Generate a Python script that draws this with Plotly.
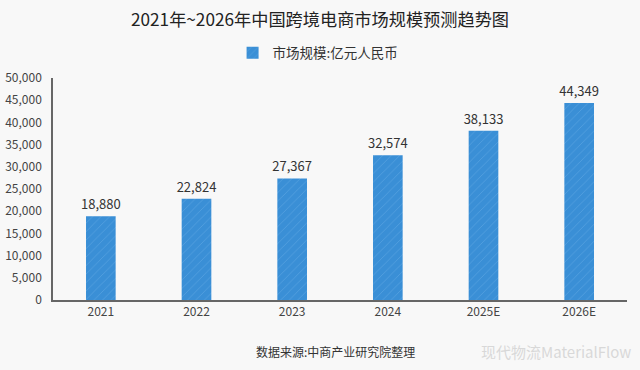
import plotly.graph_objects as go

categories = ["2021", "2022", "2023", "2024", "2025E", "2026E"]
values = [18880, 22824, 27367, 32574, 38133, 44349]
tick_vals = [0, 5000, 10000, 15000, 20000, 25000, 30000, 35000, 40000, 45000, 50000]
tick_text = [f"{v:,}" for v in tick_vals]
series_name = "市场规模:亿元人民币"
title = "2021年~2026年中国跨境电商市场规模预测趋势图"
source = "数据来源:中商产业研究院整理"

FONT = "Noto Sans CJK SC"
BLUE = "#3a8fd6"

fig = go.Figure()
fig.add_trace(go.Bar(
    x=categories, y=values, name=series_name,
    marker=dict(color=BLUE, line=dict(width=0),
                pattern=dict(shape="/", fgcolor="#6aaee6", size=6, solidity=0.15)),
    width=0.31,
    text=[f"{v:,}" for v in values], textposition="outside",
    constraintext="none",
    textfont=dict(family=FONT, size=13, color="#333"),
    cliponaxis=False,
    showlegend=True,
))

fig.update_layout(
    width=640, height=370,
    paper_bgcolor="#f8f8f8", plot_bgcolor="#f8f8f8",
    margin=dict(l=53, r=13, t=78, b=70, autoexpand=False),
    title=dict(text=title, x=0.5, xanchor="center", y=0.945, yanchor="middle",
               font=dict(family=FONT, size=17.2, color="#222")),
    legend=dict(orientation="h", xref="container", x=0.497, xanchor="center",
                yref="container", y=0.857, yanchor="middle",
                font=dict(family=FONT, size=13.5, color="#333"),
                bgcolor="rgba(0,0,0,0)", itemwidth=30),
    font=dict(family=FONT),
)
fig.update_xaxes(showline=True, linecolor="#666", linewidth=1.5, ticks="",
                 automargin=False,
                 tickfont=dict(family=FONT, size=12, color="#444"), showgrid=False)
fig.update_yaxes(range=[0, 50000], tickvals=tick_vals, ticktext=tick_text,
                 automargin=False,
                 showline=True, linecolor="#666", linewidth=1.5, showgrid=False,
                 zeroline=False, ticks="", ticklabelstandoff=7,
                 tickfont=dict(family=FONT, size=12, color="#444"))

fig.add_annotation(text=source, xref="paper", yref="paper", x=0.492, y=-0.23,
                   xanchor="center", yanchor="middle", showarrow=False,
                   font=dict(family=FONT, size=12, color="#333"))
fig.add_annotation(text="现代物流MaterialFlow", xref="paper", yref="paper", x=1.01, y=-0.23,
                   xanchor="right", yanchor="middle", showarrow=False,
                   font=dict(family=FONT, size=15, color="#d8d8d8"))

fig.write_html("out.html", config={"displayModeBar": False},
               post_script="document.body.style.margin='0';")
